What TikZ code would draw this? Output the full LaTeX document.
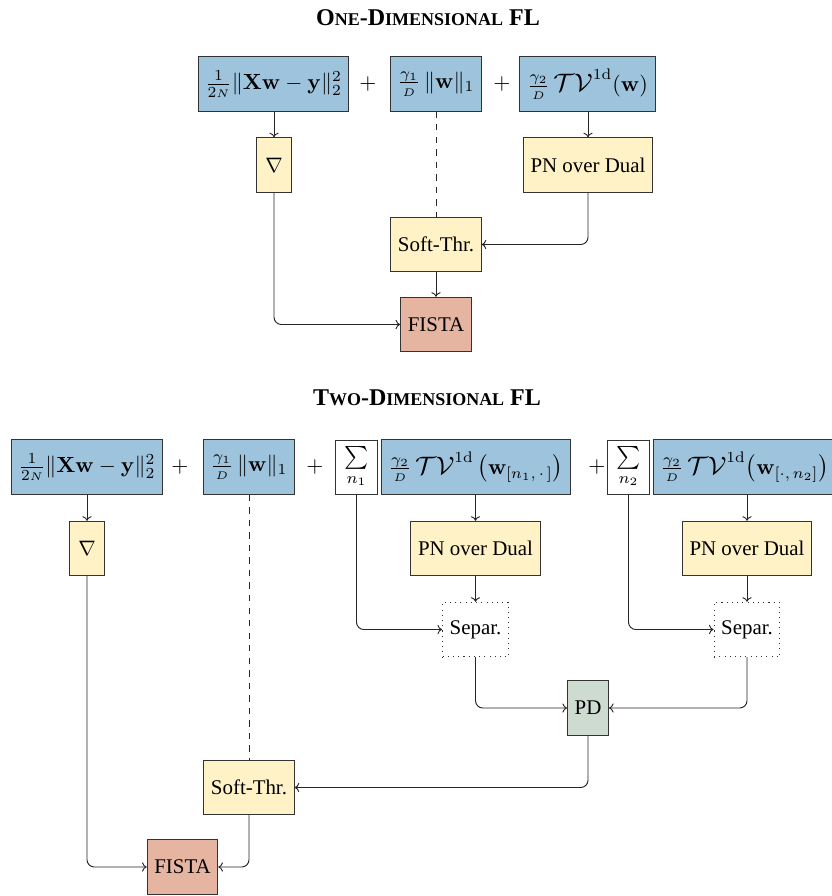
\RequirePackage{fix-cm}
\documentclass[tikz,border=0pt]{standalone}
\usepackage{amsmath}
\usepackage{graphicx}
\usepackage[no-math]{fontspec}
\setmainfont{Liberation Serif}
\usetikzlibrary{arrows.meta}

\definecolor{termblue}{RGB}{158,195,220}
\definecolor{opyellow}{RGB}{255,242,198}
\definecolor{fistared}{RGB}{230,181,161}
\definecolor{pdgreen}{RGB}{205,219,209}

% bold faked small caps for the section headings
\newcommand\scpart[1]{{\fontsize{8.6}{10}\selectfont #1}}
\newcommand\heading[1]{{\bfseries\fontsize{11.5}{14}\selectfont #1}}
% total-variation operator
\newcommand\calTV{\scalebox{1.2}[1.15]{$\mathcal{TV}$}}

\tikzset{
  box/.style={draw=black!80, line width=0.5pt, minimum height=26pt, inner sep=3.4pt},
  term/.style={box, fill=termblue, font=\fontsize{10.5}{12.6}\selectfont},
  opbox/.style={box, fill=opyellow},
  fistabox/.style={box, fill=fistared},
  pdbox/.style={box, fill=pdgreen},
  sepbox/.style={draw=black!80, line width=0.5pt, dotted, minimum height=26pt, inner sep=3.4pt},
  sumbox/.style={draw=black!80, line width=0.5pt, fill=white, inner xsep=4.2pt, inner ysep=3pt,
    font=\fontsize{10.8}{13}\selectfont},
  plus/.style={inner sep=0pt, font=\fontsize{10.5}{12.6}\selectfont},
  link/.style={-{To[length=2.2pt,width=4.4pt]}, line width=0.45pt, black!85, rounded corners=3.5pt},
  dashlink/.style={dashed, line width=0.45pt, black!85},
}

\begin{document}
\begin{tikzpicture}[x=0.4785pt, y=-0.4785pt]
\useasboundingbox (0,0) rectangle (832,896);

% ---------- one-dimensional fused lasso ----------
\node (t1) at (428,18) {\heading{O\scpart{NE}-D\scpart{IMENSIONAL} FL}};

\node[term] (a1) at (273.5,84) {$\frac{1}{2{\scriptscriptstyle N}}\|\mathbf{X}\mathbf{w}-\mathbf{y}\|_2^2$};
\node[plus] (p1) at (368,84) {$+$};
\node[term] (b1) at (436,84) {$\frac{\gamma_1}{\scriptscriptstyle D}\,\|\mathbf{w}\|_1$};
\node[plus] (p2) at (502,84) {$+$};
\node[term] (c1) at (587.5,84) {$\frac{\gamma_2}{\scriptscriptstyle D}\,\calTV^{\mathrm{1d}}(\mathbf{w})$};

\node[opbox, minimum width=16.5pt] (g1) at (274,165) {$\nabla$};
\node[opbox] (pn1) at (588,165) {PN over Dual};
\node[opbox] (st1) at (436,244.5) {Soft-Thr.};
\node[fistabox] (f1) at (436,324.5) {FISTA};

\draw[link] (g1.north |- a1.south) -- (g1.north);
\draw[link] (pn1.north |- c1.south) -- (pn1.north);
\draw[dashlink] (st1.north |- b1.south) -- (st1.north);
\draw[link] (pn1.south) |- (st1.east);
\draw[link] (st1.south) -- (f1.north);
\draw[link] (g1.south) |- (f1.west);

% ---------- two-dimensional fused lasso ----------
\node (t2) at (427,398) {\heading{T\scpart{WO}-D\scpart{IMENSIONAL} FL}};

\node[term] (a2) at (87,467) {$\frac{1}{2{\scriptscriptstyle N}}\|\mathbf{X}\mathbf{w}-\mathbf{y}\|_2^2$};
\node[plus] (p3) at (180,467) {$+$};
\node[term] (b2) at (249,467) {$\frac{\gamma_1}{\scriptscriptstyle D}\,\|\mathbf{w}\|_1$};
\node[plus] (p4) at (315,467) {$+$};
\node[sumbox] (s1) at (356.5,467.5) {$\sum\limits_{n_1}$};
\node[term, anchor=west] (c2) at (381,467) {$\frac{\gamma_2}{\scriptscriptstyle D}\,\calTV^{\mathrm{1d}}\,\bigl(\mathbf{w}_{[n_1,\,\cdot\,]}\bigr)$};
\node[plus] (p5) at (597,467) {$+$};
\node[sumbox] (s2) at (628.5,467.5) {$\sum\limits_{n_2}$};
\node[term, anchor=west] (d2) at (653,467) {$\frac{\gamma_2}{\scriptscriptstyle D}\,\calTV^{\mathrm{1d}}\bigl(\mathbf{w}_{[\cdot,\,n_2]}\bigr)$};

\node[opbox, minimum width=16.5pt] (g2) at (87,548.5) {$\nabla$};
\node[opbox] (pn2) at (475.5,548.5) {PN over Dual};
\node[opbox] (pn3) at (747,548.5) {PN over Dual};
\node[sepbox] (sp1) at (475.5,629.5) {Separ.};
\node[sepbox] (sp2) at (747,629.5) {Separ.};
\node[pdbox] (pd) at (588,708) {PD};
\node[opbox] (st2) at (249,787.5) {Soft-Thr.};
\node[fistabox] (f2) at (182.5,867) {FISTA};

\draw[link] (g2.north |- a2.south) -- (g2.north);
\draw[dashlink] (st2.north |- b2.south) -- (st2.north);
\draw[link] (s1.south) |- (sp1.west);
\draw[link] (pn2.north |- c2.south) -- (pn2.north);
\draw[link] (pn2.south) -- (sp1.north);
\draw[link] (s2.south) |- (sp2.west);
\draw[link] (pn3.north |- d2.south) -- (pn3.north);
\draw[link] (pn3.south) -- (sp2.north);
\draw[link] (sp1.south) |- (pd.west);
\draw[link] (sp2.south) |- (pd.east);
\draw[link] (pd.south) |- (st2.east);
\draw[link] (st2.south) |- (f2.east);
\draw[link] (g2.south) |- (f2.west);
\end{tikzpicture}
\end{document}
